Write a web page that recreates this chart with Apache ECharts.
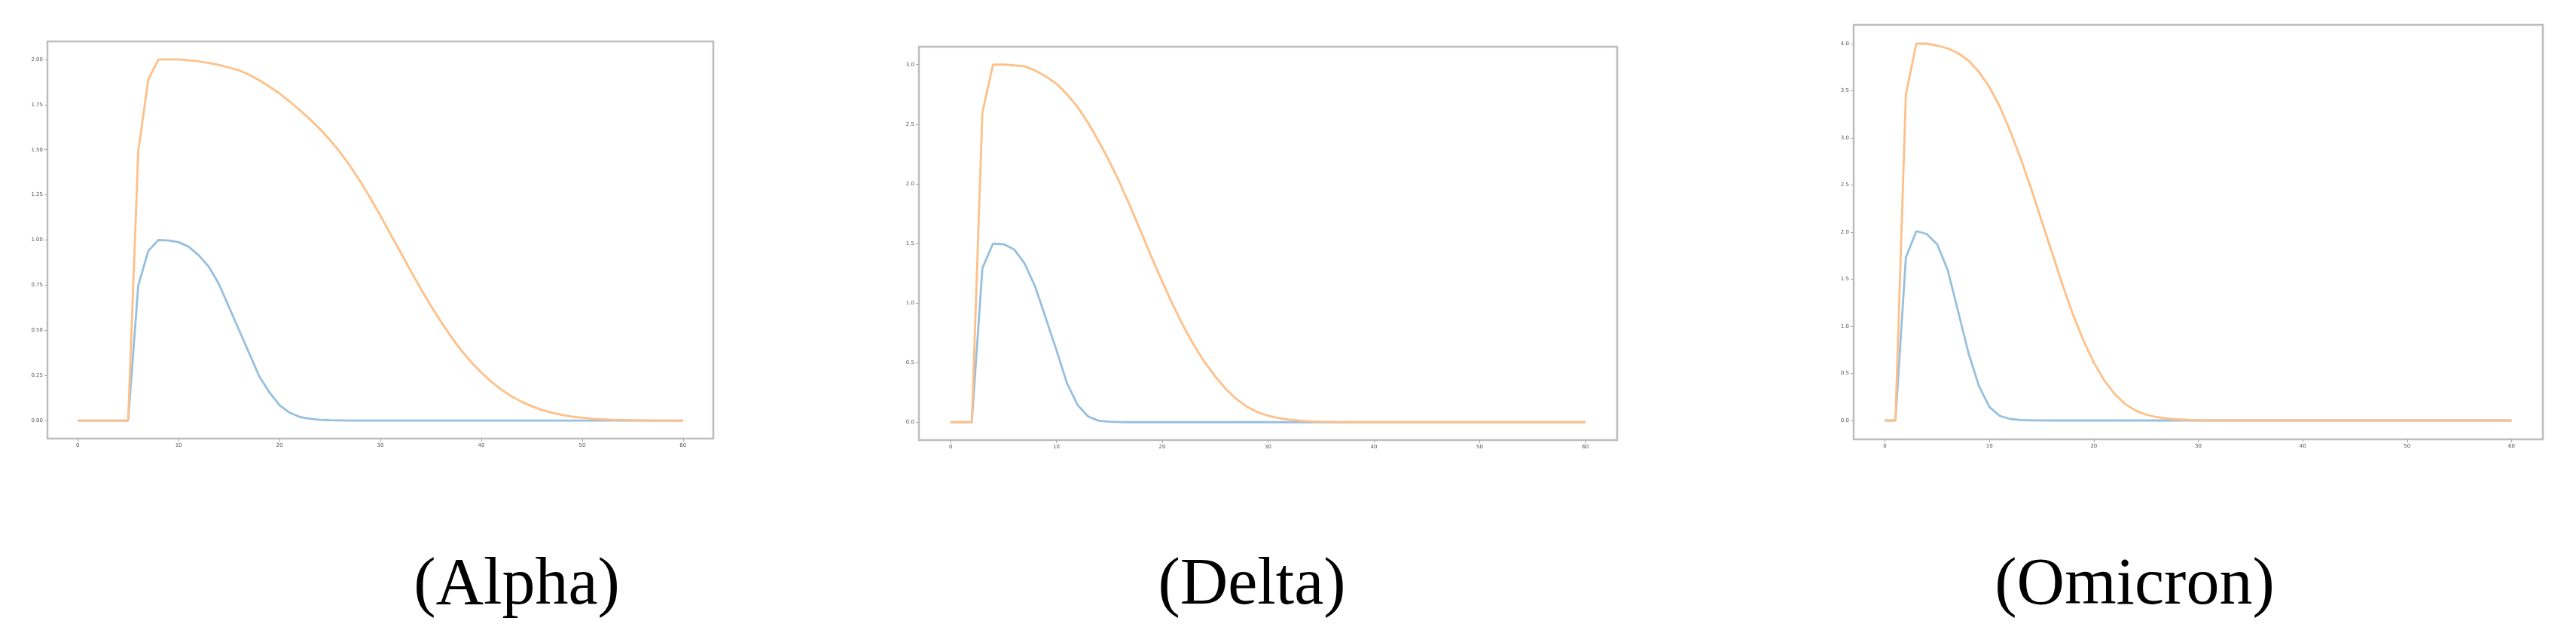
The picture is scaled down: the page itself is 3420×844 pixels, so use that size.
<!DOCTYPE html>
<html>
<head>
<meta charset="utf-8">
<script src="https://cdn.jsdelivr.net/npm/echarts@6/dist/echarts.min.js"></script>
<style>
  html, body { margin: 0; padding: 0; background: #ffffff; }
  #chart { width: 3420px; height: 844px; }
</style>
</head>
<body>
<div id="chart"></div>
<script>
// ---- data ----
const days = [0,1,2,3,4,5,6,7,8,9,10,11,12,13,14,15,16,17,18,19,20,21,22,23,24,25,26,27,28,29,30,
              31,32,33,34,35,36,37,38,39,40,41,42,43,44,45,46,47,48,49,50,51,52,53,54,55,56,57,58,59,60];

const alphaBlue = [0,0,0,0,0,0,0.748,0.94,1.0,0.997,0.988,0.963,0.915,0.852,0.756,0.628,0.50,0.372,0.244,0.156,0.085,
                   0.044,0.02,0.01,0.004,0.002,0.001,0,0,0,0,0,0,0,0,0,0,0,0,0,0,0,0,0,0,0,0,0,0,0,0,0,0,0,0,0,0,0,0,0,0];
const alphaOrange = [0,0,0,0,0,0,1.49,1.89,2.0,2.0,2.0,1.995,1.99,1.98,1.97,1.955,1.94,1.915,1.885,1.85,1.812,
                     1.768,1.72,1.67,1.615,1.555,1.487,1.41,1.325,1.233,1.135,1.033,0.932,0.83,0.73,0.637,0.548,0.465,0.39,0.324,0.266,
                     0.215,0.171,0.134,0.104,0.079,0.059,0.043,0.031,0.022,0.015,0.010,0.007,0.004,0.003,0.002,0.001,0,0,0,0];

const deltaBlue = [0,0,0,1.292,1.498,1.493,1.45,1.33,1.135,0.87,0.604,0.326,0.145,0.048,0.012,0.004,0.001,0,0,0,0,
                   0,0,0,0,0,0,0,0,0,0,0,0,0,0,0,0,0,0,0,0,0,0,0,0,0,0,0,0,0,0,0,0,0,0,0,0,0,0,0,0];
const deltaOrange = [0,0,0,2.597,3.0,3.0,2.995,2.985,2.95,2.90,2.84,2.75,2.645,2.51,2.355,2.19,2.005,1.805,1.594,1.382,1.18,
                     0.985,0.805,0.645,0.505,0.385,0.28,0.195,0.13,0.085,0.054,0.034,0.021,0.013,0.007,0.004,0.002,0.001,0,0,0,
                     0,0,0,0,0,0,0,0,0,0,0,0,0,0,0,0,0,0,0,0];

const omicronBlue = [0,0,1.73,2.01,1.98,1.87,1.60,1.16,0.714,0.365,0.143,0.048,0.016,0.005,0.002,0.001,0,0,0,0,0,
                     0,0,0,0,0,0,0,0,0,0,0,0,0,0,0,0,0,0,0,0,0,0,0,0,0,0,0,0,0,0,0,0,0,0,0,0,0,0,0,0];
const omicronOrange = [0,0,3.46,4.0,4.0,3.98,3.95,3.90,3.82,3.70,3.54,3.33,3.07,2.78,2.46,2.12,1.78,1.44,1.125,0.85,0.615,
                       0.425,0.28,0.175,0.105,0.062,0.036,0.021,0.012,0.006,0.003,0.001,0,0,0,0,0,0,0,0,0,
                       0,0,0,0,0,0,0,0,0,0,0,0,0,0,0,0,0,0,0,0];

const xTicks = [0,10,20,30,40,50,60];
const alphaYTicks = [0,0.25,0.5,0.75,1.0,1.25,1.5,1.75,2.0];
const deltaYTicks = [0,0.5,1.0,1.5,2.0,2.5,3.0];
const omicronYTicks = [0,0.5,1.0,1.5,2.0,2.5,3.0,3.5,4.0];
const captions = ['(Alpha)', '(Delta)', '(Omicron)'];

// ---- styles / layout ----
const BLUE = '#96c0de';
const ORANGE = '#ffbf88';
const FRAME = '#bdbdbd';
const TICK = '#a8a8a8';
const LABEL = '#555555';

const panels = [
  { grid: { left: 63, top: 55, width: 884, height: 527 }, yMin: -0.1, yMax: 2.1, yTicks: alphaYTicks, dec: 2, blue: alphaBlue, orange: alphaOrange },
  { grid: { left: 1220, top: 62, width: 927, height: 522 }, yMin: -0.15, yMax: 3.15, yTicks: deltaYTicks, dec: 1, blue: deltaBlue, orange: deltaOrange },
  { grid: { left: 2461, top: 33, width: 915, height: 550 }, yMin: -0.2, yMax: 4.2, yTicks: omicronYTicks, dec: 1, blue: omicronBlue, orange: omicronOrange }
];

const captionPos = [686, 1662, 2834];

function pairs(vals) { return days.map((d, i) => [d, vals[i]]); }

const option = {
  backgroundColor: '#ffffff',
  animation: false,
  grid: panels.map(p => Object.assign({ show: true, borderColor: FRAME, borderWidth: 2.5, backgroundColor: 'transparent' }, p.grid)),
  xAxis: panels.map((p, i) => ({
    type: 'value', gridIndex: i, min: -3, max: 63, position: 'bottom',
    axisLine: { show: false, onZero: false },
    splitLine: { show: false },
    axisTick: { show: true, customValues: xTicks, length: 4, inside: false, lineStyle: { color: TICK, width: 1 } },
    axisLabel: { customValues: xTicks, margin: 6, fontSize: 7, color: LABEL, fontFamily: 'DejaVu Sans' }
  })),
  yAxis: panels.map((p, i) => ({
    type: 'value', gridIndex: i, min: p.yMin, max: p.yMax, position: 'left',
    axisLine: { show: false, onZero: false },
    splitLine: { show: false },
    axisTick: { show: true, customValues: p.yTicks, length: 4, inside: false, lineStyle: { color: TICK, width: 1 } },
    axisLabel: { customValues: p.yTicks, margin: 6, fontSize: 7, color: LABEL, fontFamily: 'DejaVu Sans',
                 formatter: v => Number(v).toFixed(p.dec) }
  })),
  series: panels.flatMap((p, i) => [
    { type: 'line', xAxisIndex: i, yAxisIndex: i, data: pairs(p.blue), showSymbol: false, symbol: 'none',
      lineStyle: { color: BLUE, width: 2.8 }, z: 2 },
    { type: 'line', xAxisIndex: i, yAxisIndex: i, data: pairs(p.orange), showSymbol: false, symbol: 'none',
      lineStyle: { color: ORANGE, width: 2.8 }, z: 3 }
  ]),
  graphic: captions.map((c, i) => ({
    type: 'text', x: captionPos[i], y: 778,
    style: { text: c, fontFamily: '"Liberation Serif", "DejaVu Serif", serif', fontSize: 88, fill: '#000000',
             align: 'center', verticalAlign: 'middle' }
  }))
};

const chart = echarts.init(document.getElementById('chart'), null, { renderer: 'canvas' });
chart.setOption(option);
</script>
</body>
</html>
